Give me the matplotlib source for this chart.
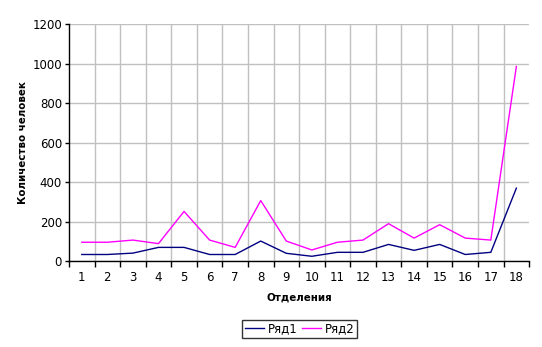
import numpy as np
import matplotlib
matplotlib.use("Agg")
import matplotlib.pyplot as plt

# Отделения 1..18
departments = list(range(1, 19))
row1 = [33, 33, 40, 69, 69, 33, 33, 101, 39, 24, 44, 44, 84, 54, 84, 33, 44, 369]
row2 = [95, 95, 106, 88, 251, 106, 69, 306, 101, 56, 95, 106, 189, 116, 184, 116, 106, 985]
series_names = ["Ряд1", "Ряд2"]

plt.rcParams['font.family'] = ['DejaVu Sans']

fig = plt.figure(figsize=(5.42, 3.47), dpi=100)
ax = fig.add_axes([0.1273, 0.2478, 0.849, 0.683])

ax.plot(departments, row1, color="#000080", lw=1, label=series_names[0])
ax.plot(departments, row2, color="#ff00ff", lw=1, label=series_names[1])

ax.set_xlim(0.5, 18.5)
ax.set_ylim(0, 1200)
ax.set_yticks(np.arange(0, 1201, 200))

# category boundaries get the tick marks, labels sit at the centres
ax.set_xticks(np.arange(0.5, 18.6, 1))
ax.set_xticklabels([])
ax.set_xticks(departments, minor=True)
ax.set_xticklabels([str(d) for d in departments], minor=True)
ax.tick_params(axis='x', which='minor', length=0, pad=7, labelsize=8.5)
ax.tick_params(axis='x', which='major', length=4, width=1, direction='out')
ax.tick_params(axis='y', length=3, width=1, labelsize=8.5, pad=2)

# gridlines: horizontal at y ticks, vertical only between categories
ax.grid(True, axis='y', color="#c0c0c0", lw=1)
for b in np.arange(1.5, 18, 1):
    ax.axvline(b, color="#c0c0c0", lw=1, zorder=0.5)
ax.set_axisbelow(True)
for s in ['top', 'right']:
    ax.spines[s].set_visible(False)
for s in ['left', 'bottom']:
    ax.spines[s].set_linewidth(1)
    ax.spines[s].set_color('black')

ax.set_xlabel("Отделения", fontsize=7.4, fontweight='bold', labelpad=6)
ax.set_ylabel("Количество человек", fontsize=7.4, fontweight='bold', labelpad=3)

leg = fig.legend(loc='center', bbox_to_anchor=(0.553, 0.052), ncol=2, fontsize=8.5,
                 frameon=True, fancybox=False, edgecolor='black', handlelength=1.6,
                 handletextpad=0.3, columnspacing=0.4, borderpad=0.25, borderaxespad=0)
leg.get_frame().set_linewidth(1)

fig.savefig("out.png", dpi=100)
